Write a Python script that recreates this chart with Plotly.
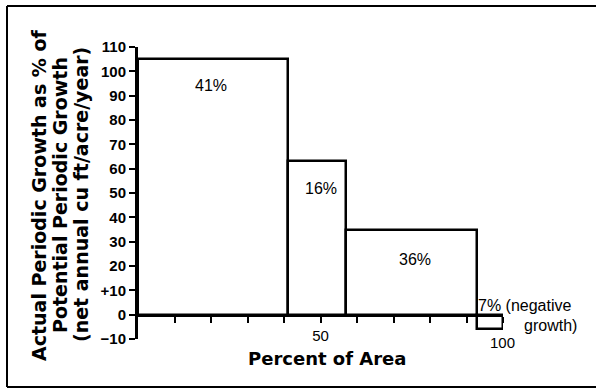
import plotly.graph_objects as go

# Data
share_labels = ["41%", "16%", "36%", "7%"]
area_share = [41, 16, 36, 7]          # percent of area (bar widths)
growth_pct = [105, 63, 35, -6]        # actual growth as % of potential
y_ticks = [-10, 0, 10, 20, 30, 40, 50, 60, 70, 80, 90, 100, 110]
y_tick_text = ["\u221210", "0", "+10", "20", "30", "40", "50", "60", "70", "80", "90", "100", "110"]
x_ticks = [10, 20, 30, 40, 50, 60, 70, 80, 90, 100]
x_tick_text = ["", "", "", "", "50", "", "", "", "", ""]
y_title_lines = ["Actual Periodic Growth as % of",
                 "Potential Periodic Growth",
                 "(net annual cu ft/acre/year)"]

lefts = []
acc = 0
for w in area_share:
    lefts.append(acc)
    acc += w
mids = [l + w / 2 for l, w in zip(lefts, area_share)]

FONT = "Liberation Sans, Arial, sans-serif"
TFONT = "DejaVu Sans, sans-serif"

# plot area in pixels (for placing texts outside the axes)
L, R, T, B = 138, 503, 47, 339
def px(xp):
    return (xp - L) / (R - L)
def py(yp):
    return (B - yp) / (B - T)

fig = go.Figure()
fig.add_trace(go.Bar(
    x=mids, y=growth_pct, width=area_share, base=0,
    marker=dict(color="white", line=dict(color="black", width=2.5)),
    hoverinfo="skip", showlegend=False,
))

fig.update_layout(
    width=596, height=389,
    margin=dict(l=L, r=596 - R, t=T, b=389 - B),
    paper_bgcolor="white", plot_bgcolor="white",
    font=dict(family=FONT, color="black", size=15),
    bargap=0,
    xaxis=dict(
        range=[0, 100], tickvals=x_ticks, ticktext=x_tick_text,
        ticks="outside", ticklen=6, tickwidth=2, tickcolor="black",
        showline=True, linewidth=3, linecolor="black",
        showgrid=False, zeroline=False,
        anchor="free", position=10 / 120, automargin=False,
        tickfont=dict(size=15, family=FONT),
    ),
    yaxis=dict(
        range=[-10, 110], tickvals=y_ticks, ticktext=y_tick_text,
        ticks="outside", ticklen=6, tickwidth=2, tickcolor="black",
        showline=True, linewidth=3, linecolor="black",
        showgrid=False, zeroline=False, automargin=False,
        tickfont=dict(size=15, family=FONT, weight="bold"),
    ),
)

# Bar labels
label_pos = [(20, 94), (50, 52), (76, 22.5)]
for (lx, ly), t in zip(label_pos, share_labels[:3]):
    fig.add_annotation(x=lx, y=ly, text=t, showarrow=False,
                       xanchor="center", yanchor="middle",
                       font=dict(size=16, family=FONT))
fig.add_annotation(xref="paper", yref="paper", x=px(476), y=py(305),
                   text=share_labels[3] + " (negative", showarrow=False,
                   xanchor="left", yanchor="middle", font=dict(size=16, family=FONT))
fig.add_annotation(xref="paper", yref="paper", x=px(579), y=py(325),
                   text="growth)", showarrow=False,
                   xanchor="right", yanchor="middle", font=dict(size=16, family=FONT))
fig.add_annotation(xref="paper", yref="paper", x=px(502), y=py(342),
                   text="100", showarrow=False,
                   xanchor="center", yanchor="middle", font=dict(size=15, family=FONT))

# Axis titles
fig.add_annotation(xref="paper", yref="paper", x=px(327), y=py(358),
                   text="<b>Percent of Area</b>", showarrow=False,
                   xanchor="center", yanchor="middle",
                   font=dict(size=18, family=TFONT))
title_x_px = [39, 60, 81]
for xp, line in zip(title_x_px, y_title_lines):
    fig.add_annotation(xref="paper", yref="paper", x=px(xp), y=py(195),
                       text="<b>" + line + "</b>", textangle=-90, showarrow=False,
                       xanchor="center", yanchor="middle",
                       font=dict(size=19, family=TFONT))

# Outer frame (top, left, bottom edges; right edge lies outside the picture)
fx0, fx1 = px(7), px(600)
fy0, fy1 = py(387), py(6)
for x0, y0, x1, y1 in [(fx0, fy1, fx1, fy1), (fx0, fy0, fx0, fy1), (fx0, fy0, fx1, fy0)]:
    fig.add_shape(type="line", xref="paper", yref="paper",
                  x0=x0, y0=y0, x1=x1, y1=y1,
                  line=dict(color="black", width=2), layer="below")

fig.write_html("out.html", config={"displayModeBar": False},
               post_script="document.body.style.margin='0';")
